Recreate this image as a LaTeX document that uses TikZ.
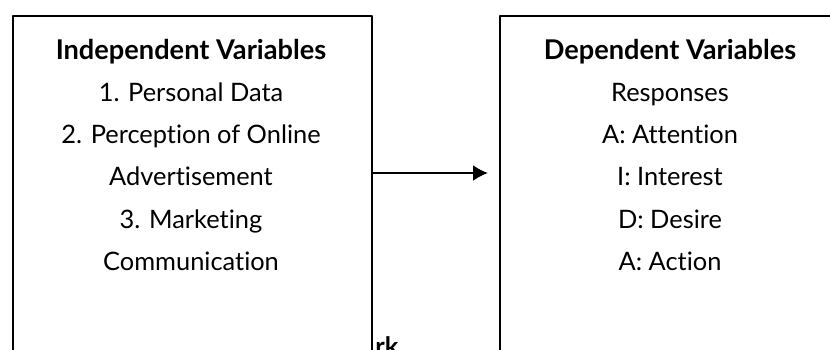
\documentclass[tikz,border=0pt]{standalone}
\usepackage{fontspec}
\setmainfont{Lato}[Ligatures={NoCommon}]
\usetikzlibrary{arrows.meta}
\tikzset{
  varbox/.style={draw, line width=1pt, fill=white, anchor=north west, minimum width=179.5pt, minimum height=200pt},
  varhead/.style={anchor=base, font=\fontsize{13.6}{16}\selectfont\bfseries},
  varitem/.style={anchor=base, font=\fontsize{12.7}{15}\selectfont}
}
\begin{document}
\begin{tikzpicture}[x=0.5pt, y=-0.5pt, >=Latex, line join=round]
    \useasboundingbox (0,0) rectangle (830,349);
    \clip (0,0) rectangle (830,349);
    \node[font=\fontsize{12.7}{15}\selectfont\bfseries, anchor=base west, inner sep=0pt] (cap) at (375,355) {rk};
    \node[varbox] (indep) at (12,15) {};
    \node[varbox] (dep) at (499,15) {};
    % independent side
    \node[varhead] (ihead) at (191,59) {Independent Variables};
    \foreach \t [count=\i] in {1. Personal Data, 2. Perception of Online, Advertisement, 3. Marketing, Communication}
        \node[varitem] (i\i) at (191,{59+42.3*\i}) {\t};
    % dependent side
    \node[varhead] (dhead) at (670,59) {Dependent Variables};
    \foreach \t [count=\i] in {Responses, A: Attention, I: Interest, D: Desire, A: Action}
        \node[varitem] (d\i) at (670,{59+42.3*\i}) {\t};
    \coordinate (tip) at (488,173);
    \draw[-{Latex[length=7.5pt,width=8pt]}, line width=1pt] (tip -| indep.east) -- (tip);
\end{tikzpicture}
\end{document}
